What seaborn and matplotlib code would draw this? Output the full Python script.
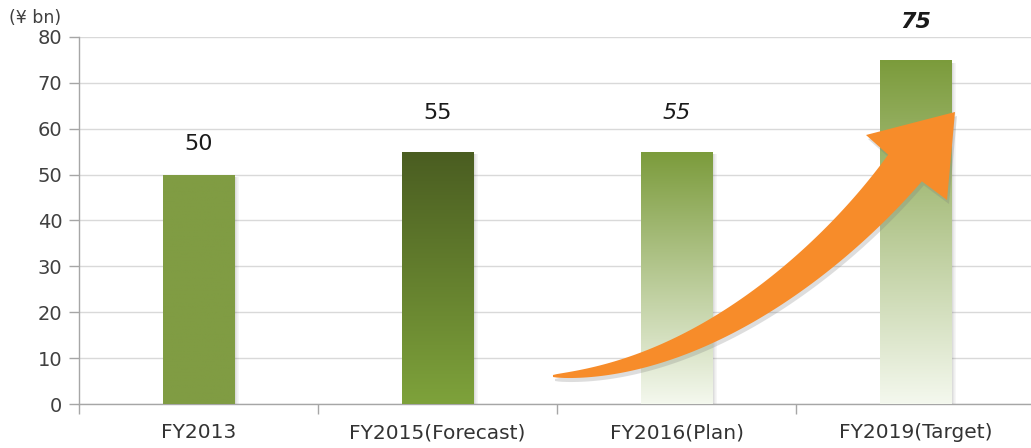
import numpy as np
import pandas as pd
import matplotlib
matplotlib.use("Agg")
import matplotlib.pyplot as plt
import seaborn as sns
from matplotlib.colors import LinearSegmentedColormap
from matplotlib.patches import Polygon, Rectangle
from matplotlib.transforms import IdentityTransform

# Data
categories = ["FY2013", "FY2015(Forecast)", "FY2016(Plan)", "FY2019(Target)"]
values = [50, 55, 55, 75]
value_labels = ["50", "55", "55", "75"]
y_ticks = [0, 10, 20, 30, 40, 50, 60, 70, 80]
unit_label = "(¥ bn)"

# Styling per bar: (top colour, bottom colour)
bar_gradients = [
    ("#809c43", "#809c43"),
    ("#4a5d21", "#7ea23b"),
    ("#7b9b3b", "#f4f8ee"),
    ("#7b9b3b", "#f4f8ee"),
]
label_styles = [("normal", "normal"), ("normal", "normal"),
                ("italic", "normal"), ("italic", "bold")]
label_offsets = [22, 28, 28, 27]

W, H, DPI = 1031, 448, 100
sns.set_theme(style="white")
plt.rcParams["font.family"] = ["DejaVu Sans"]

fig = plt.figure(figsize=(W / DPI, H / DPI), dpi=DPI)
ax = fig.add_axes([79 / W, (H - 404) / H, 956 / W, 367 / H])

df = pd.DataFrame({"category": categories, "value": values})
sns.barplot(data=df, x="category", y="value", hue="category",
            palette=[g[1] for g in bar_gradients], width=0.3,
            legend=False, ax=ax, zorder=3)

ax.set_xlim(-0.5, 3.5)
ax.set_ylim(0, 80)
ax.set_yticks(y_ticks)
ax.set_xlabel("")
ax.set_ylabel("")

# Grid and spines
ax.yaxis.grid(True, color="#d9d9d9", linewidth=1.0, zorder=0)
ax.set_axisbelow(True)
for side in ["top", "right"]:
    ax.spines[side].set_visible(False)
for side in ["left", "bottom"]:
    ax.spines[side].set_color("#a6a6a6")
    ax.spines[side].set_linewidth(1.0)

ax.tick_params(axis="y", which="major", direction="out", length=7, width=1,
               color="#a6a6a6", labelsize=14, labelcolor="#404040", pad=5, left=True)
ax.tick_params(axis="x", which="major", length=0, labelsize=14.5,
               labelcolor="#333333", pad=14)
ax.set_xticks(np.arange(-0.5, 3.6, 1.0), minor=True)
ax.tick_params(axis="x", which="minor", direction="out", length=7, width=1,
               color="#a6a6a6", bottom=True)

# Gradient fill and soft shadow for each bar
px_x = 239.0  # pixels per category unit
for patch, (top_c, bot_c) in zip(ax.patches, bar_gradients):
    x0, y0 = patch.get_x(), patch.get_y()
    w, h = patch.get_width(), patch.get_height()
    # shadow on the right-hand side
    for i, a in enumerate([0.22, 0.15, 0.09, 0.05]):
        ax.add_patch(Rectangle((x0 + w + i * 1.2 / px_x, y0), 1.4 / px_x, h - 0.6,
                               facecolor="#606060", edgecolor="none", alpha=a, zorder=2))
    cmap = LinearSegmentedColormap.from_list("g", [bot_c, top_c])
    grad = np.linspace(0, 1, 256).reshape(-1, 1)
    im = ax.imshow(grad, cmap=cmap, aspect="auto", origin="lower",
                   extent=(x0, x0 + w, y0, y0 + h), zorder=4)
    im.set_clip_path(patch)
    patch.set_edgecolor("none")

# Value labels above bars
for i, (v, lab) in enumerate(zip(values, value_labels)):
    st, wt = label_styles[i]
    ax.annotate(lab, (i, v), xytext=(0, label_offsets[i]), textcoords="offset points",
                ha="center", va="center", fontsize=16, fontstyle=st, fontweight=wt,
                color="#1a1a1a", zorder=6)

ax.set_xlim(-0.5, 3.5)
ax.set_ylim(0, 80)

# Unit label
fig.text(35 / W, 1 - 18 / H, unit_label, ha="center", va="center",
         fontsize=12.5, color="#404040")

# Curved growth arrow (pixel geometry, y measured from the top)
def to_disp(pts):
    pts = np.asarray(pts, dtype=float)
    return np.column_stack([pts[:, 0], H - pts[:, 1]])

P0, P1, P2, P3 = map(np.array, [(553, 376), (703, 371), (837, 254), (905, 168)])
t = np.linspace(0, 1, 120)[:, None]
center = ((1 - t) ** 3) * P0 + 3 * ((1 - t) ** 2) * t * P1 + 3 * (1 - t) * t ** 2 * P2 + t ** 3 * P3
deriv = 3 * ((1 - t) ** 2) * (P1 - P0) + 6 * (1 - t) * t * (P2 - P1) + 3 * t ** 2 * (P3 - P2)
tang = deriv / np.linalg.norm(deriv, axis=1, keepdims=True)
normal = np.column_stack([tang[:, 1], -tang[:, 0]])
half_w = 20.5 * (t[:, 0] ** 0.7) + 1.0
upper = center + normal * half_w[:, None]
lower = center - normal * half_w[:, None]
head = np.array([(866, 135), (955, 112), (947, 200)], dtype=float)
outline = np.vstack([upper, head, lower[::-1]])

shadow = Polygon(to_disp(outline + np.array([2, 4])), closed=True, transform=IdentityTransform(),
                 facecolor="#7a7a7a", edgecolor="none", alpha=0.25, zorder=7)
fig.patches.append(shadow)
arrow = Polygon(to_disp(outline), closed=True, transform=IdentityTransform(),
                facecolor="#f78c2a", edgecolor="none", zorder=8)
fig.patches.append(arrow)

fig.savefig("out.png", dpi=DPI, facecolor="white")
